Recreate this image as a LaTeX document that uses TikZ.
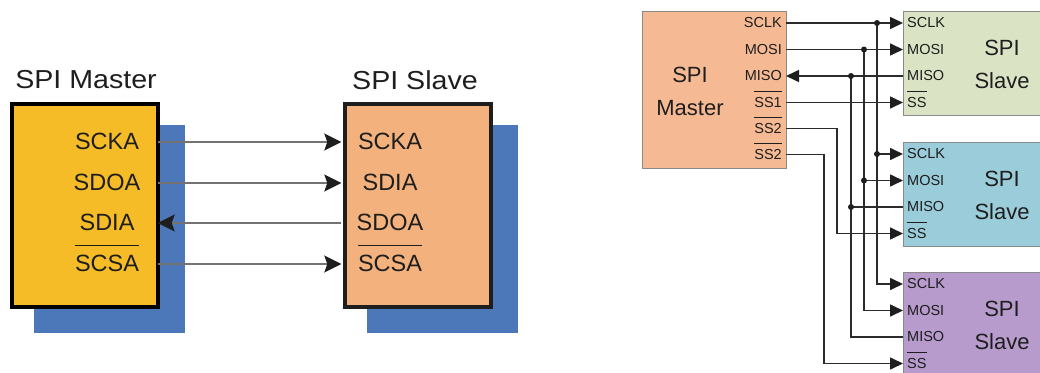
\documentclass[tikz,border=0pt]{standalone}
\usepackage{fontspec}
\setmainfont{Liberation Sans}
\usepackage{graphicx}
\usetikzlibrary{arrows.meta}
\definecolor{mgold}{HTML}{F5BC27}
\definecolor{shblue}{HTML}{4C77B8}
\definecolor{lslave}{HTML}{F3B27D}
\definecolor{rmaster}{HTML}{F5BA93}
\definecolor{sgreen}{HTML}{DAE4C5}
\definecolor{sblue}{HTML}{9BCCD9}
\definecolor{spurple}{HTML}{B79BCD}
\definecolor{txt}{HTML}{1E1E1E}
\definecolor{wire}{HTML}{2B2B2B}
\definecolor{lwire}{HTML}{737373}
\definecolor{bord}{HTML}{8A8A8A}
\tikzset{
  bigbox/.style={draw=#1, line width=3.5pt, inner sep=0pt, anchor=north west, minimum width=146pt, minimum height=203pt},
  rbox/.style={draw=bord, line width=1pt, fill=#1, inner sep=0pt, anchor=north west, minimum height=104pt, minimum width=142pt},
  title/.style={inner sep=0pt, text=txt, font=\fontsize{26}{30}\selectfont},
  lbl/.style={inner sep=0pt, text=txt, font=\fontsize{23.5}{28}\selectfont},
  big/.style={inner sep=0pt, text=txt, font=\fontsize{22}{26}\selectfont},
  pin/.style={inner sep=0pt, text=txt, font=\fontsize{14.5}{17}\selectfont},
  lovl/.style={draw=txt, line width=1.6pt},
  rovl/.style={draw=txt, line width=1pt},
  larrow/.style={draw=lwire, line width=1.4pt, -{Stealth[length=17pt, width=17pt, inset=3pt, color=txt]}},
  rarrow/.style={draw=wire, line width=1.6pt, -{Triangle[length=13pt, width=12pt, color=txt]}},
  rwire/.style={draw=wire, line width=1.6pt},
  junc/.style={fill=txt, circle, inner sep=0pt, minimum size=6pt},
}
\begin{document}
\begin{tikzpicture}[x=1pt,y=-1pt]
\useasboundingbox (0,0) rectangle (1040,372);
\clip (0,0) rectangle (1040,372);
\fill[white] (0,0) rectangle (1040,372);

% ---------------- left diagram ----------------
\fill[shblue] (34,125) rectangle (185,333);
\fill[shblue] (367,125) rectangle (518,333);
\node[bigbox=black, fill=mgold] (lm) at (10,102) {};
\node[bigbox=txt, fill=lslave] (ls) at (343,102) {};
\node[title] (tm) at (86,80) {\scalebox{1.1}[1]{SPI Master}};
\node[title] (ts) at (415,80) {\scalebox{1.1}[1]{SPI Slave}};

\node[lbl] (lm1) at (107,141) {SCKA};
\node[lbl] (lm2) at (107,182) {SDOA};
\node[lbl] (lm3) at (107,222) {SDIA};
\node[lbl] (lm4) at (107,263.5) {SCSA};
\draw[lovl] ([yshift=9.5pt]lm4.north west) -- ([yshift=9.5pt]lm4.north east);

\node[lbl] (ls1) at (390,141) {SCKA};
\node[lbl] (ls2) at (390,182) {SDIA};
\node[lbl] (ls3) at (390,222) {SDOA};
\node[lbl] (ls4) at (390,263.5) {SCSA};
\draw[lovl] ([yshift=9.5pt]ls4.north west) -- ([yshift=9.5pt]ls4.north east);

\coordinate (lma) at (157.7,142);
\coordinate (lmb) at (157.7,183);
\coordinate (lmc) at (157.7,223);
\coordinate (lmd) at (157.7,264);
\coordinate (lsa) at (341.3,142);
\coordinate (lsb) at (341.3,183);
\coordinate (lsc) at (341.3,223);
\coordinate (lsd) at (341.3,264);
\draw[larrow] (lma) -- (lsa);
\draw[larrow] (lmb) -- (lsb);
\draw[larrow] (lsc) -- (lmc);
\draw[larrow] (lmd) -- (lsd);

% ---------------- right diagram ----------------
\node[draw=bord, line width=1pt, fill=rmaster, inner sep=0pt, anchor=north west, minimum width=144pt, minimum height=157pt] (rm) at (642,11) {};
\node[big] (rmt1) at (690,75) {SPI};
\node[big] (rmt2) at (690,108) {Master};

\node[pin, anchor=east] (mp1) at (782,23) {SCLK};
\node[pin, anchor=east] (mp2) at (782,49.5) {MOSI};
\node[pin, anchor=east] (mp3) at (782,76) {MISO};
\node[pin, anchor=east] (mp4) at (782,102.5) {SS1};
\node[pin, anchor=east] (mp5) at (782,128.5) {SS2};
\node[pin, anchor=east] (mp6) at (782,154.5) {SS2};
\foreach \p in {mp4,mp5,mp6}
  \draw[rovl] ([yshift=5.5pt]\p.north west) -- ([yshift=5.5pt]\p.north east);

\node[rbox=sgreen] (s1) at (903,11) {};
\node[rbox=sblue] (s2) at (903,142) {};
\node[rbox=spurple] (s3) at (903,272) {};

\foreach \s/\t in {s1/11, s2/142, s3/272} {
  \node[big] (\s-a) at (1002,\t+36.5) {SPI};
  \node[big] (\s-b) at (1002,\t+69.5) {Slave};
  \node[pin, anchor=west] (\s-p1) at (907,\t+12) {SCLK};
  \node[pin, anchor=west] (\s-p2) at (907,\t+38.5) {MOSI};
  \node[pin, anchor=west] (\s-p3) at (907,\t+65) {MISO};
  \node[pin, anchor=west] (\s-p4) at (907,\t+91.5) {SS};
  \draw[rovl] ([yshift=5.5pt]\s-p4.north west) -- ([yshift=5.5pt]\s-p4.north east);
  \coordinate (\s-i1) at (903,\t+12);
  \coordinate (\s-i2) at (903,\t+38.5);
  \coordinate (\s-i3) at (903,\t+65);
  \coordinate (\s-i4) at (903,\t+91.5);
}

\coordinate (m1) at (786,23);
\coordinate (m2) at (786,49.5);
\coordinate (m3) at (786,76);
\coordinate (m4) at (786,102.5);
\coordinate (m5) at (786,128.5);
\coordinate (m6) at (786,154.5);

% SCLK bus
\draw[rarrow] (m1) -- (s1-i1);
\draw[rarrow] (877,23) -- (877,154) -- (s2-i1);
\draw[rarrow] (877,154) |- (s3-i1);
% MOSI bus
\draw[rarrow] (m2) -- (s1-i2);
\draw[rarrow] (864,49.5) -- (864,180.5) -- (s2-i2);
\draw[rarrow] (864,180.5) |- (s3-i2);
% MISO bus
\draw[rarrow] (s1-i3) -- (m3);
\draw[rwire] (s3-i3) -| (851,76);
\draw[rwire] (s2-i3) -- (851,207);
% slave selects
\draw[rarrow] (m4) -- (s1-i4);
\draw[rarrow] (m5) -| (837,200) |- (s2-i4);
\draw[rarrow] (m6) -| (824,300) |- (s3-i4);

\node[junc] (j1) at (877,23) {};
\node[junc] (j2) at (877,154) {};
\node[junc] (j3) at (864,49.5) {};
\node[junc] (j4) at (864,180.5) {};
\node[junc] (j5) at (851,76) {};
\node[junc] (j6) at (851,207) {};
\end{tikzpicture}
\end{document}
